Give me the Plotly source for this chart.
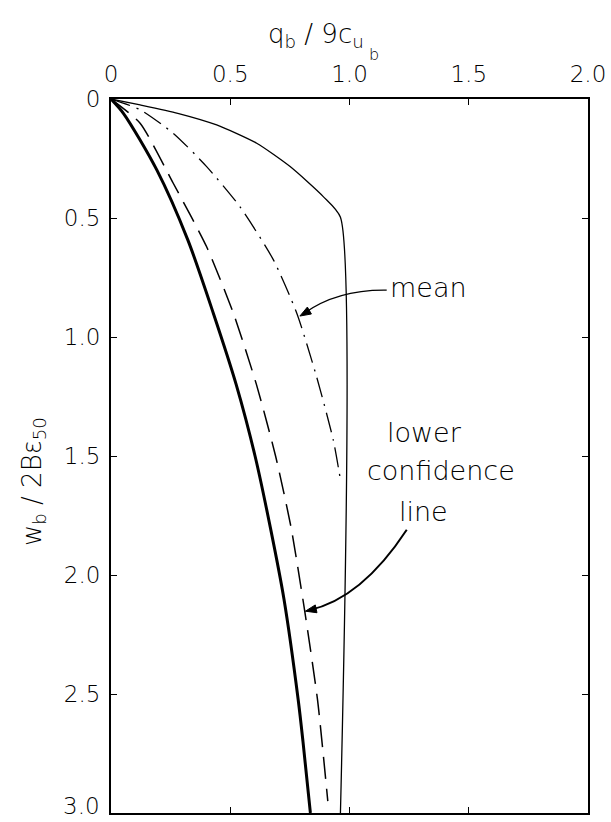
import math
import plotly.graph_objects as go

# ---- data ----
# upper bound curve (thin solid), then vertical at q ~ 0.962
upper_q = [0.0, 0.122, 0.28, 0.443, 0.611, 0.751, 0.890, 0.962, 0.962]
upper_w = [0.0, 0.025, 0.06, 0.109, 0.186, 0.284, 0.410, 0.497, 3.0]

# mean curve (dash-dot)
mean_q = [0.0, 0.122, 0.261, 0.401, 0.541, 0.681, 0.779, 0.862, 0.932, 0.962]
mean_w = [0.0, 0.045, 0.144, 0.284, 0.453, 0.676, 0.900, 1.167, 1.433, 1.60]

# lower confidence line (dashed)
lcl_q = [0.0, 0.122, 0.261, 0.401, 0.513, 0.61, 0.69, 0.755, 0.812, 0.866, 0.909]
lcl_w = [0.0, 0.102, 0.354, 0.621, 0.900, 1.20, 1.50, 1.80, 2.15, 2.525, 2.95]

# thick solid curve
thick_q = [0.0, 0.052, 0.192, 0.322, 0.429, 0.525, 0.604, 0.668, 0.725, 0.785, 0.805, 0.836]
thick_w = [0.0, 0.060, 0.298, 0.592, 0.900, 1.20, 1.50, 1.80, 2.10, 2.525, 2.70, 3.0]

x_ticks = [0, 0.5, 1.0, 1.5, 2.0]
x_ticklabels = ["0", "0.5", "1.0", "1.5", "2.0"]
y_ticks = [0, 0.5, 1.0, 1.5, 2.0, 2.5, 3.0]
y_ticklabels = ["0", "0.5", "1.0", "1.5", "2.0", "2.5", ""]
y_last_label = "3.0"   # drawn slightly raised, as in the reference

FONT = "DejaVu Sans"
ink = "#000000"
W, H = 611, 822
L, R, T, B = 111, 23, 99, 9
PW, PH = W - L - R, H - T - B
SX, SY = PW / 2.0, PH / 3.0   # px per data unit


def px(xp):
    return (xp - L) / PW


def py(yp):
    return 1 - (yp - T) / PH


def arrowhead(tip, frm, length=11, half=4):
    """triangle path (data coords) with its tip at `tip`, pointing away from `frm`"""
    dx, dy = (tip[0] - frm[0]) * SX, (tip[1] - frm[1]) * SY
    n = math.hypot(dx, dy)
    ux, uy = dx / n, dy / n
    bx, by = -ux * length, -uy * length
    pxv, pyv = -uy * half, ux * half
    c1 = (tip[0] + (bx + pxv) / SX, tip[1] + (by + pyv) / SY)
    c2 = (tip[0] + (bx - pxv) / SX, tip[1] + (by - pyv) / SY)
    return f"M {tip[0]} {tip[1]} L {c1[0]} {c1[1]} L {c2[0]} {c2[1]} Z"


fig = go.Figure()
fig.add_trace(go.Scatter(x=upper_q, y=upper_w, mode="lines",
                         line=dict(color=ink, width=1.3, shape="spline", smoothing=0.6)))
fig.add_trace(go.Scatter(x=mean_q, y=mean_w, mode="lines",
                         line=dict(color=ink, width=1.3, dash="20px,7px,2px,7px", shape="spline", smoothing=0.6)))
fig.add_trace(go.Scatter(x=lcl_q, y=lcl_w, mode="lines",
                         line=dict(color=ink, width=1.5, dash="22px,10px", shape="spline", smoothing=0.6)))
fig.add_trace(go.Scatter(x=thick_q, y=thick_w, mode="lines",
                         line=dict(color=ink, width=3, shape="spline", smoothing=0.8)))

# curved leaders with arrowheads
fig.add_shape(type="path", path="M 1.156 0.803 Q 0.95 0.80 0.81 0.90",
              line=dict(color=ink, width=1.3), xref="x", yref="y")
fig.add_shape(type="path", path=arrowhead((0.792, 0.912), (0.84, 0.884)),
              line=dict(color=ink, width=1), fillcolor=ink, xref="x", yref="y")
fig.add_shape(type="path", path="M 1.24 1.81 Q 1.05 2.10 0.83 2.148",
              line=dict(color=ink, width=2), xref="x", yref="y")
fig.add_shape(type="path", path=arrowhead((0.815, 2.152), (0.87, 2.14)),
              line=dict(color=ink, width=1), fillcolor=ink, xref="x", yref="y")

lab_font = dict(family=FONT, size=27, color=ink, weight=200)
fig.add_annotation(x=1.162, y=0.79, text="mean", showarrow=False, xanchor="left", yanchor="middle", font=lab_font)
fig.add_annotation(x=1.313, y=1.40, text="lower", showarrow=False, xanchor="center", yanchor="middle", font=lab_font)
fig.add_annotation(x=1.385, y=1.56, text="confidence", showarrow=False, xanchor="center", yanchor="middle", font=lab_font)
fig.add_annotation(x=1.31, y=1.735, text="line", showarrow=False, xanchor="center", yanchor="middle", font=lab_font)

# axis titles
title_font = dict(family=FONT, size=26, color=ink, weight=200)
fig.add_annotation(x=px(316), y=py(35), xref="paper", yref="paper",
                   text="q<sub>b</sub> / 9c<sub>u</sub>", showarrow=False,
                   font=title_font, xanchor="center", yanchor="middle")
fig.add_annotation(x=px(367), y=py(54), xref="paper", yref="paper",
                   text="b", showarrow=False,
                   font=dict(family=FONT, size=16, color=ink, weight=200), xanchor="left", yanchor="middle")
fig.add_annotation(x=px(33), y=py(482), xref="paper", yref="paper",
                   text="w<sub>b</sub> / 2Bε<sub>50</sub>", showarrow=False, textangle=-90,
                   font=title_font, xanchor="center", yanchor="middle")

tick_font = dict(family=FONT, size=23, color=ink, weight=200)
fig.add_annotation(x=px(102), y=py(806), xref="paper", yref="paper",
                   text=y_last_label, showarrow=False, font=tick_font,
                   xanchor="right", yanchor="middle")

axis_common = dict(showgrid=False, zeroline=False, showline=True, linecolor=ink, linewidth=2,
                   mirror="ticks", ticks="inside", ticklen=6, tickwidth=1.3, tickcolor=ink,
                   automargin=False, ticklabeloverflow="allow", tickfont=tick_font)

fig.update_xaxes(range=[0, 2.0], tickvals=x_ticks, ticktext=x_ticklabels, side="top",
                 ticklabelstandoff=6, **axis_common)
fig.update_yaxes(range=[3.0, 0], tickvals=y_ticks, ticktext=y_ticklabels,
                 ticklabelstandoff=4, **axis_common)

fig.update_layout(width=W, height=H, margin=dict(l=L, r=R, t=T, b=B, autoexpand=False),
                  paper_bgcolor="white", plot_bgcolor="white", showlegend=False)

fig.write_html("out.html", config={"displayModeBar": False},
               post_script="document.body.style.margin='0';document.body.style.overflow='hidden';")
